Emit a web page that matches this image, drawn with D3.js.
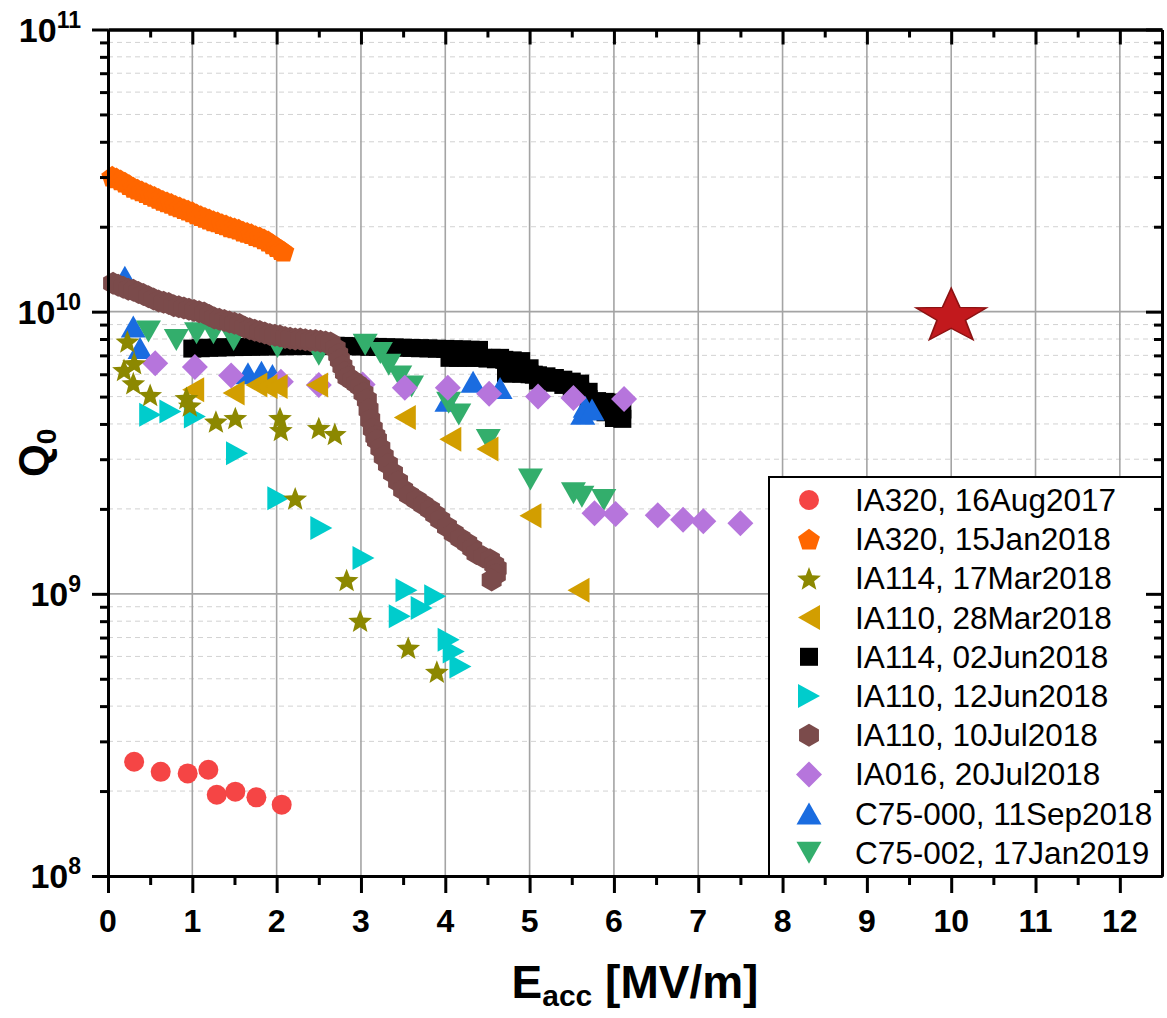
<!DOCTYPE html>
<html>
<head>
<meta charset="utf-8">
<script src="https://cdn.jsdelivr.net/npm/d3@7"></script>
<style>
  body { margin: 0; background: #fff; }
  svg { display: block; }
  text { font-family: "Liberation Sans", Arial, Helvetica, sans-serif; }
</style>
</head>
<body>
<svg id="chart" width="1167" height="1018"></svg>
<script>
// ---- Q0 vs Eacc measurements, one array per test run: [Eacc (MV/m), Q0] ----
const ia320_16Aug2017 = [
  [0.31, 2.54e8], [0.625, 2.34e8], [0.945, 2.31e8], [1.19, 2.38e8],
  [1.29, 1.94e8], [1.51, 1.99e8], [1.76, 1.90e8], [2.06, 1.79e8]
];
const ia320_15Jan2018 = [
  [0.05, 3.02e10], [0.10, 2.98e10], [0.15, 2.93e10], [0.20, 2.88e10], [0.25, 2.82e10],
  [0.30, 2.76e10], [0.35, 2.72e10], [0.40, 2.68e10], [0.45, 2.64e10], [0.50, 2.60e10],
  [0.55, 2.56e10], [0.60, 2.52e10], [0.65, 2.48e10], [0.70, 2.45e10], [0.75, 2.42e10],
  [0.80, 2.38e10], [0.85, 2.35e10], [0.90, 2.32e10], [0.95, 2.29e10], [1.00, 2.26e10],
  [1.05, 2.22e10], [1.10, 2.19e10], [1.15, 2.16e10], [1.20, 2.13e10], [1.25, 2.10e10],
  [1.30, 2.08e10], [1.35, 2.05e10], [1.40, 2.03e10], [1.45, 2.00e10], [1.50, 1.98e10],
  [1.55, 1.96e10], [1.60, 1.93e10], [1.65, 1.91e10], [1.70, 1.89e10], [1.75, 1.86e10],
  [1.80, 1.84e10], [1.85, 1.81e10], [1.90, 1.78e10], [1.95, 1.74e10], [2.00, 1.70e10],
  [2.05, 1.66e10], [2.08, 1.64e10]
];
const ia114_17Mar2018 = [
  [0.23, 7.84e9], [0.31, 6.57e9], [0.19, 6.22e9], [0.30, 5.58e9], [0.50, 5.07e9],
  [0.93, 4.95e9], [0.97, 4.65e9], [1.28, 4.08e9], [1.51, 4.20e9], [2.04, 4.20e9],
  [2.05, 3.81e9], [2.50, 3.87e9], [2.69, 3.69e9], [2.22, 2.18e9], [2.83, 1.12e9],
  [2.99, 8.03e8], [3.56, 6.44e8], [3.90, 5.30e8]
];
const ia110_28Mar2018 = [
  [1.01, 5.29e9], [1.49, 5.15e9], [1.76, 5.50e9], [1.88, 5.43e9], [2.00, 5.43e9],
  [2.48, 5.50e9], [3.52, 4.22e9], [4.06, 3.53e9], [4.50, 3.26e9], [5.01, 1.89e9],
  [5.58, 1.03e9]
];
const ia114_02Jun2018 = [
  [1.0, 7.40e9], [1.1, 7.42e9], [1.2, 7.45e9], [1.3, 7.46e9], [1.4, 7.48e9],
  [1.5, 7.49e9], [1.6, 7.50e9], [1.7, 7.51e9], [1.8, 7.52e9], [1.9, 7.53e9],
  [2.0, 7.54e9], [2.1, 7.54e9], [2.2, 7.55e9], [2.3, 7.55e9], [2.4, 7.56e9],
  [2.5, 7.56e9], [2.6, 7.57e9], [2.7, 7.57e9], [2.8, 7.56e9], [2.9, 7.54e9],
  [3.0, 7.53e9], [3.1, 7.51e9], [3.2, 7.50e9], [3.3, 7.48e9], [3.4, 7.47e9],
  [3.5, 7.45e9], [3.6, 7.44e9], [3.7, 7.42e9], [3.8, 7.41e9], [3.9, 7.39e9],
  [4.0, 7.38e9], [4.1, 7.36e9], [4.2, 7.35e9], [4.3, 7.33e9], [4.4, 7.32e9],
  [4.5, 6.82e9], [4.6, 6.78e9], [4.7, 6.75e9], [4.8, 6.72e9], [4.9, 6.68e9],
  [5.0, 6.30e9], [5.05, 5.98e9], [5.1, 5.95e9], [5.2, 5.90e9], [5.3, 5.82e9],
  [5.4, 5.74e9], [5.5, 5.65e9], [5.6, 5.56e9], [5.7, 5.20e9], [5.8, 4.82e9],
  [5.9, 4.79e9], [6.0, 4.76e9], [6.1, 4.50e9],
  [4.05, 6.86e9], [4.15, 6.86e9], [4.25, 6.86e9], [4.35, 6.86e9], [4.45, 6.86e9],
  [4.55, 6.86e9], [4.65, 6.86e9], [4.72, 6.05e9], [4.8, 6.03e9], [4.9, 6.03e9],
  [5.0, 6.00e9], [5.1, 5.70e9], [5.2, 5.65e9], [5.3, 5.60e9], [5.4, 5.50e9],
  [5.5, 5.35e9], [5.6, 5.25e9], [5.7, 4.90e9], [5.8, 4.46e9], [5.9, 4.40e9],
  [6.0, 4.20e9], [6.1, 4.17e9]
];
const ia110_12Jun2018 = [
  [0.50, 4.31e9], [0.74, 4.43e9], [1.03, 4.25e9], [1.53, 3.15e9], [2.02, 2.18e9],
  [2.53, 1.71e9], [3.03, 1.34e9], [3.54, 1.03e9], [3.88, 9.8e8], [3.46, 8.32e8],
  [3.72, 8.91e8], [4.04, 6.88e8], [4.10, 6.25e8], [4.18, 5.53e8]
];
const ia110_10Jul2018 = [
  [0.06, 1.26e10], [0.12, 1.24e10], [0.18, 1.22e10], [0.24, 1.20e10], [0.30, 1.19e10],
  [0.36, 1.17e10], [0.42, 1.15e10], [0.48, 1.13e10], [0.54, 1.11e10], [0.60, 1.09e10],
  [0.66, 1.08e10], [0.72, 1.07e10], [0.78, 1.05e10], [0.84, 1.04e10], [0.90, 1.03e10],
  [0.96, 1.02e10], [1.02, 1.01e10], [1.08, 1.00e10], [1.14, 9.9e9], [1.20, 9.7e9],
  [1.26, 9.5e9], [1.32, 9.4e9], [1.38, 9.3e9], [1.44, 9.2e9], [1.50, 9.1e9],
  [1.56, 9.0e9], [1.62, 8.8e9], [1.68, 8.7e9], [1.74, 8.6e9], [1.80, 8.5e9],
  [1.86, 8.4e9], [1.92, 8.3e9], [1.98, 8.25e9], [2.04, 8.2e9], [2.10, 8.1e9],
  [2.16, 8.05e9], [2.22, 8.0e9], [2.28, 8.0e9], [2.34, 7.95e9], [2.40, 7.9e9],
  [2.46, 7.9e9], [2.52, 7.85e9], [2.58, 7.8e9], [2.64, 7.75e9],
  [2.70, 7.40e9], [2.73, 7.05e9], [2.75, 6.75e9], [2.78, 6.40e9], [2.81, 6.10e9],
  [2.84, 5.85e9], [2.90, 5.70e9], [2.95, 5.55e9], [2.99, 5.43e9], [3.03, 5.15e9],
  [3.07, 4.87e9], [3.09, 4.50e9], [3.11, 4.14e9], [3.14, 3.85e9], [3.17, 3.62e9],
  [3.19, 3.51e9], [3.23, 3.28e9], [3.27, 3.07e9], [3.32, 2.88e9], [3.38, 2.68e9],
  [3.44, 2.50e9], [3.50, 2.34e9], [3.57, 2.24e9], [3.66, 2.15e9], [3.74, 2.07e9],
  [3.82, 1.99e9], [3.88, 1.91e9], [3.94, 1.83e9], [4.02, 1.73e9], [4.10, 1.64e9],
  [4.18, 1.57e9], [4.26, 1.51e9], [4.32, 1.45e9], [4.37, 1.39e9], [4.45, 1.35e9],
  [4.53, 1.32e9], [4.58, 1.27e9], [4.61, 1.23e9], [4.60, 1.17e9], [4.55, 1.12e9]
];
const ia016_20Jul2018 = [
  [0.56, 6.57e9], [1.03, 6.36e9], [1.46, 5.94e9], [2.05, 5.65e9], [2.50, 5.50e9],
  [3.02, 5.52e9], [3.52, 5.38e9], [4.03, 5.37e9], [4.52, 5.12e9], [5.10, 5.00e9],
  [5.52, 4.94e9], [6.12, 4.90e9], [5.77, 1.93e9], [6.02, 1.92e9], [6.52, 1.90e9],
  [6.82, 1.83e9], [7.06, 1.81e9], [7.50, 1.78e9]
];
const c75000_11Sep2018 = [
  [0.20, 1.33e10], [0.30, 8.86e9], [0.38, 7.43e9], [1.66, 6.05e9], [1.82, 6.13e9],
  [1.95, 5.97e9], [4.33, 5.65e9], [4.65, 5.36e9], [4.02, 4.83e9], [5.66, 4.60e9],
  [5.63, 4.35e9], [5.74, 4.50e9]
];
const c75002_17Jan2019 = [
  [0.48, 8.50e9], [0.81, 7.94e9], [1.05, 8.39e9], [1.25, 8.39e9], [1.49, 7.94e9],
  [2.01, 7.50e9], [2.50, 7.03e9], [3.05, 7.63e9], [3.23, 7.13e9], [3.33, 6.48e9],
  [3.46, 5.89e9], [3.60, 5.43e9], [4.04, 4.76e9], [4.16, 4.32e9], [4.51, 3.51e9],
  [5.01, 2.54e9], [5.52, 2.27e9], [5.62, 2.21e9], [5.88, 2.15e9]
];
// design target marker
const targetPoint = [10, 9.6e9];

// legend entries in display order
const legendLabels = [
  "IA320, 16Aug2017", "IA320, 15Jan2018", "IA114, 17Mar2018", "IA110, 28Mar2018",
  "IA114, 02Jun2018", "IA110, 12Jun2018", "IA110, 10Jul2018", "IA016, 20Jul2018",
  "C75-000, 11Sep2018", "C75-002, 17Jan2019"
];
const seriesData = [
  ia320_16Aug2017, ia320_15Jan2018, ia114_17Mar2018, ia110_28Mar2018, ia114_02Jun2018,
  ia110_12Jun2018, ia110_10Jul2018, ia016_20Jul2018, c75000_11Sep2018, c75002_17Jan2019
];
const seriesShapes = ["circle", "pentagon", "star", "triLeft", "square",
                      "triRight", "hexagon", "diamond", "triUp", "triDown"];
const seriesColors = ["#f54545", "#ff6600", "#8c8800", "#d29e00", "#000000",
                      "#00cccc", "#7b4b4b", "#b675dc", "#1a6ce0", "#33ae6c"];
// stacking order of the series (first drawn at the bottom)
const drawOrder = [1, 0, 4, 5, 8, 9, 7, 3, 6, 2];

const xTicks = d3.range(0, 13);
const xMinorTicks = d3.range(0.5, 12.5, 1);
const yDecades = [1e8, 1e9, 1e10, 1e11];
const yMinorTicks = [];
[1e8, 1e9, 1e10].forEach(d => { for (let k = 2; k <= 9; k++) yMinorTicks.push(k * d); });

// ---- layout ----
const svg = d3.select("#chart");
const plotL = 108, plotR = 1162, plotT = 29.5, plotB = 876;
const x = d3.scaleLinear().domain([0, 12.5]).range([plotL, plotR]);
const y = d3.scaleLog().domain([1e8, 1e11]).range([plotB, plotT]);

// ---- marker shapes, centred on (0,0) ----
function polygon(pts) { return "M" + pts.map(p => p[0].toFixed(2) + "," + p[1].toFixed(2)).join("L") + "Z"; }
function regular(n, r, rot) {
  const pts = [];
  for (let i = 0; i < n; i++) {
    const a = rot + i * 2 * Math.PI / n;
    pts.push([r * Math.sin(a), -r * Math.cos(a)]);
  }
  return pts;
}
function starPts(ro, ri) {
  const pts = [];
  for (let i = 0; i < 10; i++) {
    const r = i % 2 ? ri : ro, a = i * Math.PI / 5;
    pts.push([r * Math.sin(a), -r * Math.cos(a)]);
  }
  return pts;
}
function shapePath(kind) {
  switch (kind) {
    case "circle": return d3.symbol(d3.symbolCircle, Math.PI * 10 * 10)();
    case "square": return polygon([[-9, -9], [9, -9], [9, 9], [-9, 9]]);
    case "pentagon": return polygon(regular(5, 11.5, 0).map(p => [p[0], p[1] + 1.1]));
    case "hexagon": return polygon(regular(6, 11.5, 0));
    case "diamond": return polygon([[0, -13], [13, 0], [0, 13], [-13, 0]]);
    case "star": return polygon(starPts(12.5, 5.4).map(p => [p[0], p[1] + 1.2]));
    case "triUp": return polygon([[0, -11], [12.5, 11], [-12.5, 11]]);
    case "triDown": return polygon([[0, 11], [12.5, -11], [-12.5, -11]]);
    case "triLeft": return polygon([[-11, 0], [11, -12.5], [11, 12.5]]);
    case "triRight": return polygon([[11, 0], [-11, -12], [-11, 12]]);
  }
}

// ---- grid ----
const grid = svg.append("g");
grid.selectAll(".ymin").data(yMinorTicks).join("line")
  .attr("x1", plotL).attr("x2", plotR)
  .attr("y1", d => y(d)).attr("y2", d => y(d))
  .attr("stroke", "#d2d2d2").attr("stroke-width", 1).attr("stroke-dasharray", "5,4");
grid.selectAll(".xmaj").data(xTicks.filter(d => d > 0)).join("line")
  .attr("x1", d => x(d)).attr("x2", d => x(d))
  .attr("y1", plotT).attr("y2", plotB)
  .attr("stroke", "#a4a4a4").attr("stroke-width", 1.6);
grid.selectAll(".ymaj").data([1e9, 1e10]).join("line")
  .attr("x1", plotL).attr("x2", plotR)
  .attr("y1", d => y(d)).attr("y2", d => y(d))
  .attr("stroke", "#a4a4a4").attr("stroke-width", 1.6);

// ---- data ----
const plot = svg.append("g");
drawOrder.forEach(i => {
  const p = shapePath(seriesShapes[i]);
  plot.append("g").selectAll("path").data(seriesData[i]).join("path")
    .attr("d", p)
    .attr("transform", d => `translate(${x(d[0])},${y(d[1])})`)
    .attr("fill", seriesColors[i]);
});

// design target star (wide five-point star)
plot.append("path")
  .attr("d", polygon(starPts(28.5, 11.5)))
  .attr("transform", `translate(${x(targetPoint[0])},${y(targetPoint[1])}) scale(1.3,1)`)
  .attr("fill", "#c2191d").attr("stroke", "#8c1212").attr("stroke-width", 1.3);

// ---- legend ----
const lg = svg.append("g");
lg.append("rect").attr("x", 769).attr("y", 477).attr("width", plotR - 769).attr("height", plotB - 477)
  .attr("fill", "#fff").attr("stroke", "#000").attr("stroke-width", 2);
legendLabels.forEach((name, i) => {
  const cy = 500 + i * 39.2;
  lg.append("path").attr("d", shapePath(seriesShapes[i]))
    .attr("transform", `translate(809,${cy})`).attr("fill", seriesColors[i]);
  lg.append("text").attr("x", 855).attr("y", cy + 11)
    .attr("font-size", 31.5).attr("fill", "#000").text(name);
});

// ---- axes (frame with ticks on all four sides) ----
function styleAxis(g) {
  g.selectAll("path.domain").attr("stroke", "#000").attr("stroke-width", 3);
  g.selectAll(".tick line").attr("stroke", "#000").attr("stroke-width", 3);
  g.selectAll("text").remove();
}
const ax = svg.append("g");
ax.append("g").attr("transform", `translate(0,${plotB})`)
  .call(d3.axisBottom(x).tickValues(xMinorTicks).tickSizeInner(9).tickSizeOuter(0)).call(styleAxis);
ax.append("g").attr("transform", `translate(0,${plotB})`)
  .call(d3.axisBottom(x).tickValues(xTicks).tickSizeInner(17).tickSizeOuter(0)).call(styleAxis);
ax.append("g").attr("transform", `translate(0,${plotT})`)
  .call(d3.axisTop(x).tickValues(xMinorTicks).tickSizeInner(-8).tickSizeOuter(0)).call(styleAxis);
ax.append("g").attr("transform", `translate(0,${plotT})`)
  .call(d3.axisTop(x).tickValues(xTicks).tickSizeInner(-15).tickSizeOuter(0)).call(styleAxis);
ax.append("g").attr("transform", `translate(${plotL},0)`)
  .call(d3.axisLeft(y).tickValues(yMinorTicks).tickSizeInner(8).tickSizeOuter(0)).call(styleAxis);
ax.append("g").attr("transform", `translate(${plotL},0)`)
  .call(d3.axisLeft(y).tickValues(yDecades).tickSizeInner(16).tickSizeOuter(0)).call(styleAxis);
ax.append("g").attr("transform", `translate(${plotR},0)`)
  .call(d3.axisRight(y).tickValues(yMinorTicks).tickSizeInner(-8).tickSizeOuter(0)).call(styleAxis);
ax.append("g").attr("transform", `translate(${plotR},0)`)
  .call(d3.axisRight(y).tickValues(yDecades).tickSizeInner(-16).tickSizeOuter(0)).call(styleAxis);

// tick labels
ax.append("g").selectAll("text").data(xTicks).join("text")
  .attr("x", d => x(d)).attr("y", 932).attr("text-anchor", "middle")
  .attr("font-size", 32).attr("font-weight", "bold").text(d => d);
const yl = ax.append("g").selectAll("text").data(yDecades).join("text")
  .attr("x", 81).attr("y", d => y(d) + 12).attr("text-anchor", "end")
  .attr("font-size", 34).attr("font-weight", "bold");
yl.append("tspan").text("10");
yl.append("tspan").attr("font-size", 23).attr("dy", -14).text(d => Math.round(Math.log10(d)));

// axis titles
const xt = svg.append("text").attr("x", (plotL + plotR) / 2).attr("y", 998)
  .attr("text-anchor", "middle").attr("font-size", 46).attr("font-weight", "bold");
xt.append("tspan").text("E");
xt.append("tspan").attr("font-size", 30).attr("dy", 8).text("acc");
xt.append("tspan").attr("dy", -8).text(" [MV/m]");

const ytl = svg.append("text").attr("transform", `translate(48,${(plotT + plotB) / 2}) rotate(-90)`)
  .attr("text-anchor", "middle").attr("font-size", 42).attr("font-weight", "bold");
ytl.append("tspan").text("Q");
ytl.append("tspan").attr("font-size", 28).attr("dy", 8).text("0");
</script>
</body>
</html>
